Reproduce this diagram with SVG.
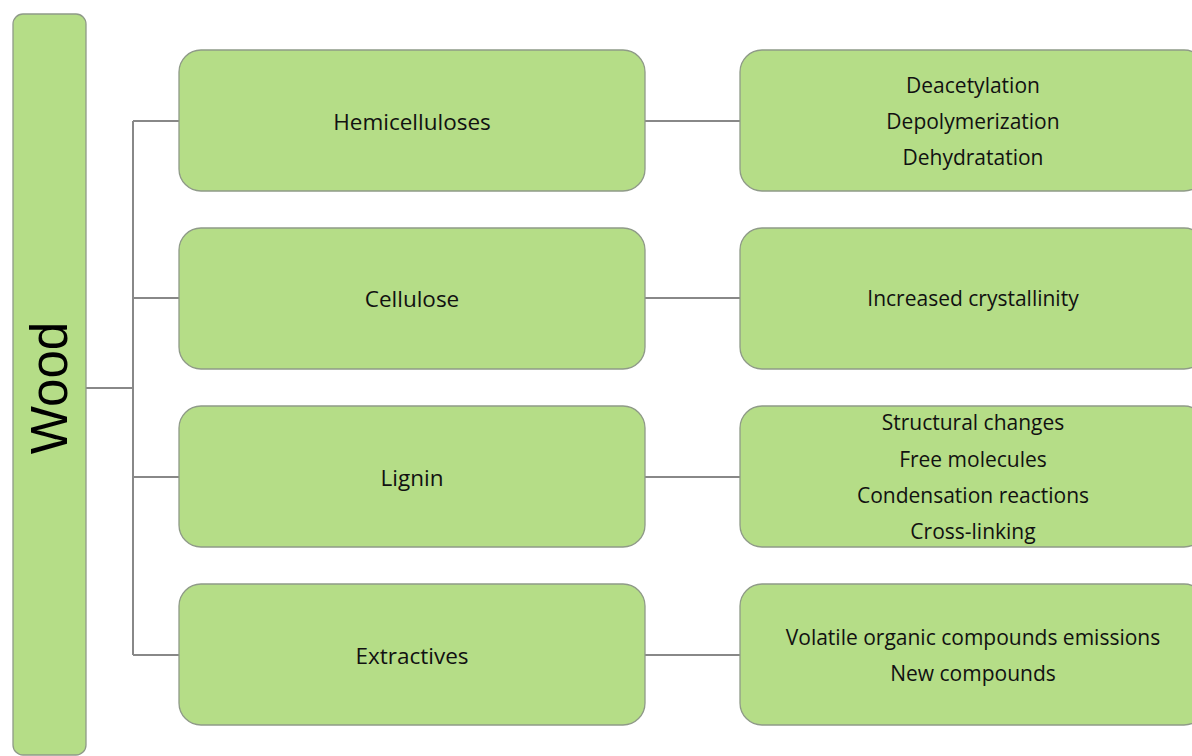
<svg xmlns="http://www.w3.org/2000/svg" width="1192" height="756" viewBox="0 0 1192 756">
<style>
.box{fill:#b5dd87;stroke:#8f9a88;stroke-width:1.3}
.t{font-family:"Open Sans","Liberation Sans",sans-serif;font-size:21px;fill:#111;text-anchor:middle;dominant-baseline:central}
.l{font-size:22.5px}
.c{fill:none;stroke:#888;stroke-width:2}
</style>
<rect width="1192" height="756" fill="#fff"/>
<g id="connectors">
<path class="c" d="M86,388H133M133,121V655M133,121H179M133,298H179M133,477H179M133,655H179"/>
<path class="c" d="M645,121H740M645,298H740M645,477H740M645,655H740"/>
</g>
<g id="wood">
<rect class="box" x="13" y="14" width="73" height="741" rx="10"/>
<text x="49" y="388" transform="rotate(-90 49 388)" style="font-family:'Liberation Sans',Arial,sans-serif;font-size:51px;fill:#000;text-anchor:middle;dominant-baseline:central">Wood</text>
</g>
<g id="hemicelluloses">
<rect class="box" x="179" y="50" width="466" height="141" rx="22"/>
<text class="t l" x="412" y="121">Hemicelluloses</text>
</g>
<g id="cellulose">
<rect class="box" x="179" y="228" width="466" height="141" rx="22"/>
<text class="t l" x="412" y="298">Cellulose</text>
</g>
<g id="lignin">
<rect class="box" x="179" y="406" width="466" height="141" rx="22"/>
<text class="t l" x="412" y="477">Lignin</text>
</g>
<g id="extractives">
<rect class="box" x="179" y="584" width="466" height="141" rx="22"/>
<text class="t l" x="412" y="655">Extractives</text>
</g>
<g id="hemi-effects">
<rect class="box" x="740" y="50" width="466" height="141" rx="22"/>
<text class="t" x="973" y="85">Deacetylation</text>
<text class="t" x="973" y="121">Depolymerization</text>
<text class="t" x="973" y="157">Dehydratation</text>
</g>
<g id="cellulose-effects">
<rect class="box" x="740" y="228" width="466" height="141" rx="22"/>
<text class="t" x="973" y="298">Increased crystallinity</text>
</g>
<g id="lignin-effects">
<rect class="box" x="740" y="406" width="466" height="141" rx="22"/>
<text class="t" x="973" y="422">Structural changes</text>
<text class="t" x="973" y="459">Free molecules</text>
<text class="t" x="973" y="495">Condensation reactions</text>
<text class="t" x="973" y="531">Cross-linking</text>
</g>
<g id="extractives-effects">
<rect class="box" x="740" y="584" width="466" height="141" rx="22"/>
<text class="t" x="973" y="637">Volatile organic compounds emissions</text>
<text class="t" x="973" y="673">New compounds</text>
</g>
</svg>
